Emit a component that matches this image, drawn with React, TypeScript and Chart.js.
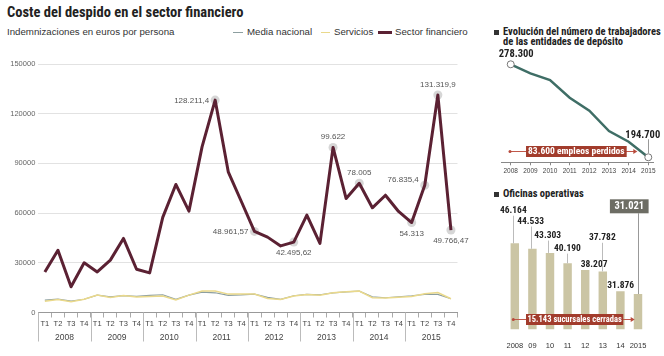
import React, { useEffect, useRef } from 'react';
import { Chart, registerables } from 'chart.js';

Chart.register(...registerables);

// ---------- data ----------
const years = ['2008', '2009', '2010', '2011', '2012', '2013', '2014', '2015'];
const quarterNames = ['T1', 'T2', 'T3', 'T4'];
const quarterLabels = years.flatMap(() => quarterNames);

const sectorFinanciero = [
  24500, 37600, 15500, 30000,
  24500, 31600, 44700, 26100,
  23900, 57400, 77300, 61200,
  100000, 128211.4, 84900, 67000,
  48961.57, 45500, 40200, 42495.62,
  58800, 41700, 99622, 68800,
  78005, 63200, 70800, 61000,
  54313, 76835.4, 131319.9, 49766.47,
];
const mediaNacional = [
  7500, 8100, 6900, 8000,
  10500, 9400, 10200, 9700,
  10300, 10700, 7900, 10500,
  12300, 11900, 10300, 10600,
  11100, 9100, 7900, 10100,
  10900, 10700, 11900, 12500,
  12900, 9500, 8900, 9500,
  10100, 10900, 10900, 8300,
];
const servicios = [
  6800, 7900, 6500, 8000,
  10500, 9000, 10200, 9400,
  9600, 9900, 7500, 10500,
  13000, 13000, 11100, 11100,
  11100, 8500, 7800, 10000,
  10900, 10400, 11900, 12500,
  12900, 8900, 8700, 9200,
  9700, 11300, 12100, 8300,
];
// index of labelled point, placement
const labeledPoints: [number, string][] = [
  [13, 'left'], [16, 'left'], [19, 'below'], [22, 'above'], [24, 'above'],
  [28, 'below'], [29, 'leftUp'], [30, 'above'], [31, 'below'],
];

const workerYears = [2008, 2009, 2010, 2011, 2012, 2013, 2014, 2015];
const workers = [278300, 270200, 264200, 248300, 236600, 218300, 208700, 194700];
const workersLostText = '83.600 empleos perdidos';

const officeYears = ['2008', '09', '10', '11', '12', '13', '14', '2015'];
const offices = [46164, 44533, 43303, 40190, 38207, 37782, 31876, 31021];
const officesClosedText = '15.143 sucursales cerradas';

// ---------- style ----------
const SANS = "'Liberation Sans', Arial, Helvetica, sans-serif";
const NARROW = "'Liberation Sans Narrow', 'Arial Narrow', 'Roboto Condensed', 'DejaVu Sans Condensed', sans-serif";
const MAROON = '#5b2133';
const GRAYBLUE = '#8d9fa0';
const YELLOW = '#ead98b';
const TEAL = '#3f6e66';
const KHAKI = '#cbc5a4';
const RED = '#a23c2c';

function fmt(v: number): string {
  const [i, d] = String(v).split('.');
  return i.replace(/\B(?=(\d{3})+(?!\d))/g, '.') + (d ? ',' + d : '');
}

function arrowLine(ctx: any, x1: number, x2: number, ly: number) {
  ctx.strokeStyle = '#c0584a';
  ctx.lineWidth = 1;
  ctx.beginPath();
  ctx.moveTo(x1, ly);
  ctx.lineTo(x2, ly);
  ctx.stroke();
  ctx.fillStyle = '#b84a3c';
  ctx.beginPath();
  ctx.arc(x1, ly, 1.5, 0, Math.PI * 2);
  ctx.fill();
  ctx.beginPath();
  ctx.moveTo(x2 + 3, ly);
  ctx.lineTo(x2 - 1, ly - 2.5);
  ctx.lineTo(x2 - 1, ly + 2.5);
  ctx.closePath();
  ctx.fill();
}

// ---------- plugins ----------
const mainPlugin = {
  id: 'mainAnn',
  beforeDatasetsDraw(chart: any) {
    const { ctx } = chart;
    const meta = chart.getDatasetMeta(0);
    ctx.save();
    ctx.fillStyle = 'rgba(200,200,200,0.75)';
    labeledPoints.forEach(([i]) => {
      const p = meta.data[i];
      ctx.beginPath();
      ctx.arc(p.x, p.y, 4.5, 0, Math.PI * 2);
      ctx.fill();
    });
    ctx.restore();
  },
  afterDatasetsDraw(chart: any) {
    const { ctx } = chart;
    const meta = chart.getDatasetMeta(0);
    ctx.save();
    ctx.font = `8px ${SANS}`;
    ctx.fillStyle = '#555';
    ctx.textBaseline = 'middle';
    labeledPoints.forEach(([i, pos]) => {
      const p = meta.data[i];
      const t = fmt(sectorFinanciero[i]);
      if (pos === 'left' || pos === 'leftUp') {
        ctx.textAlign = 'right';
        ctx.fillText(t, p.x - 6, p.y + (pos === 'leftUp' ? -5 : 0.5));
      } else if (pos === 'above') {
        ctx.textAlign = 'center';
        ctx.fillText(t, p.x, p.y - 10.5);
      } else {
        ctx.textAlign = 'center';
        ctx.fillText(t, p.x, p.y + 11);
      }
    });
    ctx.restore();
  },
  afterDraw(chart: any) {
    const { ctx, chartArea } = chart;
    const xs = chart.scales.x;
    const cat = xs.getPixelForValue(1) - xs.getPixelForValue(0);
    ctx.save();
    ctx.strokeStyle = '#bbb';
    ctx.lineWidth = 1;
    ctx.font = `8.5px ${SANS}`;
    ctx.fillStyle = '#444';
    ctx.textAlign = 'center';
    ctx.textBaseline = 'middle';
    years.forEach((y, k) => {
      const a = xs.getPixelForValue(4 * k);
      const b = xs.getPixelForValue(4 * k + 3);
      const sep = Math.round(a - cat / 2) + 0.5;
      ctx.beginPath();
      ctx.moveTo(sep, chartArea.bottom);
      ctx.lineTo(sep, chartArea.bottom + 29);
      ctx.stroke();
      ctx.fillText(y, (a + b) / 2, chartArea.bottom + 25);
    });
    ctx.restore();
  },
};

const workersPlugin = {
  id: 'workersAnn',
  afterDatasetsDraw(chart: any) {
    const { ctx } = chart;
    const meta = chart.getDatasetMeta(0);
    const p0 = meta.data[0];
    const pN = meta.data[meta.data.length - 1];
    ctx.save();
    ctx.font = `bold 10.5px ${NARROW}`;
    ctx.fillStyle = '#222';
    ctx.textAlign = 'center';
    ctx.textBaseline = 'middle';
    ctx.fillText(fmt(workers[0]), p0.x + 5.5, p0.y - 9.5);
    ctx.fillText(fmt(workers[workers.length - 1]), pN.x - 5.5, pN.y - 21.5);
    // leader
    ctx.strokeStyle = '#999';
    ctx.lineWidth = 1;
    ctx.beginPath();
    ctx.moveTo(Math.round(pN.x) + 0.5, pN.y - 18);
    ctx.lineTo(Math.round(pN.x) + 0.5, pN.y - 4);
    ctx.stroke();
    // arrow line
    const ly = Math.round(pN.y - 6.3) + 0.5;
    arrowLine(ctx, p0.x - 0.7, pN.x - 14, ly);
    // red box
    const bl = p0.x + 15.3;
    const br = pN.x - 21.6;
    ctx.fillStyle = RED;
    ctx.fillRect(bl, ly - 5.5, br - bl, 11);
    ctx.fillStyle = '#fff';
    ctx.font = `bold 9.5px ${NARROW}`;
    ctx.fillText(workersLostText, (bl + br) / 2, ly + 0.5);
    ctx.restore();
  },
};

const officesPlugin = {
  id: 'officesAnn',
  afterDatasetsDraw(chart: any) {
    const { ctx, chartArea } = chart;
    const meta = chart.getDatasetMeta(0);
    const rise = [32.6, 27.3, 17.3, 14.7, 5.7, 33.6, 6];
    const dx = [-1.5, -1.8, -2.3, -0.2, 8.9, -0.5, 0.3];
    const leader = [true, true, true, true, false, true, false];
    ctx.save();
    ctx.font = `bold 9.5px ${NARROW}`;
    ctx.textAlign = 'center';
    ctx.textBaseline = 'middle';
    for (let i = 0; i < offices.length - 1; i++) {
      const b = meta.data[i];
      const lx = b.x + dx[i];
      const lyy = b.y - rise[i];
      if (leader[i]) {
        ctx.strokeStyle = '#bbb';
        ctx.lineWidth = 1;
        ctx.beginPath();
        ctx.moveTo(Math.round(lx) + 0.5, lyy + 5);
        ctx.lineTo(Math.round(lx) + 0.5, b.y);
        ctx.stroke();
      }
      ctx.fillStyle = '#222';
      ctx.fillText(fmt(offices[i]), lx, lyy);
    }
    // last value box
    const bL = meta.data[offices.length - 1];
    const cx = bL.x - 8.7;
    const top = chartArea.top + 4.3;
    ctx.strokeStyle = '#999';
    ctx.lineWidth = 1;
    ctx.beginPath();
    ctx.moveTo(Math.round(bL.x) + 0.5, top + 14);
    ctx.lineTo(Math.round(bL.x) + 0.5, bL.y);
    ctx.stroke();
    ctx.fillStyle = '#6d6d64';
    ctx.fillRect(cx - 19.4, top, 38.7, 14);
    ctx.fillStyle = '#fff';
    ctx.font = `bold 10.5px ${NARROW}`;
    ctx.fillText(fmt(offices[offices.length - 1]), cx, top + 7.5);
    // arrow line
    const b0 = meta.data[0];
    const ly = Math.round(chartArea.bottom - 10.3) + 0.5;
    arrowLine(ctx, b0.x - 1.5, bL.x - 6.3, ly);
    const bl = b0.x + 11.2;
    const br = bL.x - 14.7;
    ctx.fillStyle = RED;
    ctx.fillRect(bl, ly - 5.5, br - bl, 11);
    ctx.fillStyle = '#fff';
    ctx.font = `bold 8.5px ${NARROW}`;
    ctx.fillText(officesClosedText, (bl + br) / 2, ly + 0.5);
    ctx.restore();
  },
};

export default function App() {
  const mainRef = useRef<HTMLCanvasElement>(null);
  const topRef = useRef<HTMLCanvasElement>(null);
  const botRef = useRef<HTMLCanvasElement>(null);

  useEffect(() => {
    const main = new Chart(mainRef.current as HTMLCanvasElement, {
      type: 'line',
      data: {
        labels: quarterLabels,
        datasets: [
          { label: 'Sector financiero', data: sectorFinanciero, borderColor: MAROON, borderWidth: 3, pointRadius: 0, tension: 0, borderJoinStyle: 'round' as any },
          { label: 'Servicios', data: servicios, borderColor: YELLOW, borderWidth: 1.5, pointRadius: 0, tension: 0 },
          { label: 'Media nacional', data: mediaNacional, borderColor: GRAYBLUE, borderWidth: 1.2, pointRadius: 0, tension: 0 },
        ],
      },
      options: {
        responsive: false,
        animation: false,
        layout: { padding: { left: 0, right: 12.5, top: 24, bottom: 0 } },
        plugins: { legend: { display: false }, tooltip: { enabled: false } },
        scales: {
          x: {
            offset: true,
            grid: { offset: true, drawOnChartArea: false, tickLength: 5, color: '#aaa' },
            border: { color: '#999' },
            ticks: { color: '#444', font: { family: SANS, size: 7.5 }, padding: 2, maxRotation: 0, autoSkip: false },
            afterFit: (s: any) => { s.height = 43.5; },
          },
          y: {
            min: 0, max: 150000,
            ticks: { stepSize: 30000, color: '#666', font: { family: SANS, size: 7.5 }, padding: 3, callback: (v: any) => String(v) },
            grid: { color: '#e2e2e2', drawTicks: false },
            border: { display: false },
            afterFit: (s: any) => { s.width = 38.3; },
          },
        },
      },
      plugins: [mainPlugin],
    });

    const top = new Chart(topRef.current as HTMLCanvasElement, {
      type: 'line',
      data: {
        datasets: [{
          data: workerYears.map((x, i) => ({ x, y: workers[i] })),
          borderColor: TEAL, borderWidth: 2.5, tension: 0,
          pointRadius: workers.map((_, i) => (i === 0 || i === workers.length - 1 ? 3.5 : 0)),
          pointBackgroundColor: '#fff', pointBorderColor: '#777', pointBorderWidth: 1,
        }],
      },
      options: {
        responsive: false,
        animation: false,
        layout: { padding: { left: 21.1, right: 10.8, top: 10, bottom: 0 } },
        plugins: { legend: { display: false }, tooltip: { enabled: false } },
        scales: {
          x: {
            type: 'linear', min: 2007.51, max: 2015.25,
            ticks: { stepSize: 1, includeBounds: false, color: '#444', font: { family: SANS, size: 6.5 }, padding: 2, maxRotation: 0, autoSkip: false, callback: (v: any) => String(v) },
            grid: { drawOnChartArea: false, tickLength: 3, color: '#888' },
            border: { color: '#888' },
            afterFit: (s: any) => { s.height = 17.7; },
          },
          y: { display: false, min: 190200, max: 291160 },
        },
      },
      plugins: [workersPlugin],
    });

    const bot = new Chart(botRef.current as HTMLCanvasElement, {
      type: 'bar',
      data: {
        labels: officeYears,
        datasets: [{ data: offices, backgroundColor: KHAKI, barPercentage: 0.48, categoryPercentage: 1 }],
      },
      options: {
        responsive: false,
        animation: false,
        layout: { padding: { left: 26, right: 17.2, top: 15, bottom: 0 } },
        plugins: { legend: { display: false }, tooltip: { enabled: false } },
        scales: {
          x: {
            grid: { display: false },
            border: { display: false },
            ticks: { color: '#333', font: { family: SANS, size: 7.5 }, padding: 4, maxRotation: 0, minRotation: 0, autoSkip: false },
            afterFit: (s: any) => { s.height = 26.7; },
          },
          y: { display: false, min: 20500, max: 60580 },
        },
      },
      plugins: [officesPlugin],
    });

    return () => { main.destroy(); top.destroy(); bot.destroy(); };
  }, []);

  const abs = (s: any) => ({ position: 'absolute' as const, whiteSpace: 'nowrap' as const, ...s });

  return (
    <div style={{ position: 'absolute', left: 0, top: 0, width: 664, height: 356, background: '#fff', overflow: 'hidden' }}>
      <div style={abs({ left: 7, top: 4, font: `bold 14.5px ${NARROW}`, color: '#222', lineHeight: '18px' })}>Coste del despido en el sector financiero</div>
      <div style={abs({ left: 7, top: 26, font: `9.7px ${SANS}`, color: '#333', lineHeight: '12px' })}>Indemnizaciones en euros por persona</div>

      <div style={abs({ left: 233, top: 32, width: 10, height: 1, background: GRAYBLUE })} />
      <div style={abs({ left: 247, top: 26, font: `9.7px ${SANS}`, color: '#333', lineHeight: '12px' })}>Media nacional</div>
      <div style={abs({ left: 321, top: 31.5, width: 9, height: 1.5, background: YELLOW })} />
      <div style={abs({ left: 334, top: 26, font: `9.7px ${SANS}`, color: '#333', lineHeight: '12px' })}>Servicios</div>
      <div style={abs({ left: 378, top: 31, width: 14, height: 3, background: MAROON })} />
      <div style={abs({ left: 395, top: 26, font: `9.7px ${SANS}`, color: '#333', lineHeight: '12px' })}>Sector financiero</div>

      <canvas ref={mainRef} width={470} height={316} style={{ position: 'absolute', left: 0, top: 40 }} />

      <div style={abs({ left: 494, top: 29.5, width: 5, height: 5, background: '#333' })} />
      <div style={abs({ left: 503, top: 26.5, font: `bold 10.5px ${NARROW}`, color: '#222', lineHeight: '10.6px' })}>
        Evolución del número de trabajadores<br />de las entidades de depósito
      </div>
      <canvas ref={topRef} width={184} height={140} style={{ position: 'absolute', left: 480, top: 40 }} />

      <div style={abs({ left: 494, top: 191.5, width: 5, height: 5, background: '#333' })} />
      <div style={abs({ left: 503, top: 188, font: `bold 10.5px ${NARROW}`, color: '#222', lineHeight: '12px' })}>Oficinas operativas</div>
      <canvas ref={botRef} width={184} height={176} style={{ position: 'absolute', left: 480, top: 180 }} />
    </div>
  );
}
